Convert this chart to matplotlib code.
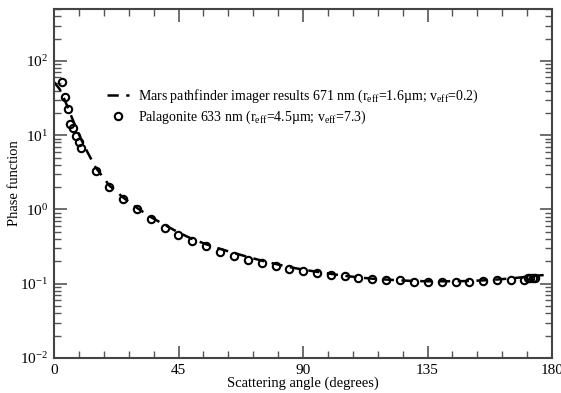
import matplotlib
matplotlib.use("Agg")
import matplotlib.pyplot as plt
from matplotlib.ticker import FixedLocator, LogLocator, NullFormatter, FuncFormatter
import numpy as np

plt.rcParams['font.family'] = ['Liberation Serif', 'DejaVu Serif']
plt.rcParams['mathtext.fontset'] = 'custom'
plt.rcParams['mathtext.rm'] = 'Liberation Serif'
plt.rcParams['mathtext.it'] = 'Liberation Serif'

# Mars Pathfinder imager phase function (671 nm)
mpf_angle = [0, 2, 4, 6, 8, 10, 12, 15, 20, 25, 30, 35, 40, 45, 50, 55, 60, 65, 70,
             75, 80, 85, 90, 95, 100, 105, 110, 115, 120, 125, 130, 135, 140, 145,
             150, 155, 160, 165, 170, 175, 178]
mpf_phase = [52, 42, 29, 19, 12.5, 8.5, 6.0, 3.7, 2.1, 1.45, 1.05, 0.79, 0.62, 0.49,
             0.40, 0.34, 0.295, 0.26, 0.23, 0.205, 0.185, 0.168, 0.155, 0.145, 0.136,
             0.128, 0.122, 0.117, 0.114, 0.111, 0.109, 0.108, 0.108, 0.108, 0.109,
             0.111, 0.114, 0.118, 0.123, 0.129, 0.132]

# Palagonite laboratory measurement (633 nm)
pal_angle = [2.9, 4.0, 5.0, 5.9, 6.9, 8.0, 8.9, 9.9, 15.1, 19.9, 24.9, 29.9, 34.9, 40.0,
             44.9, 50.0, 54.9, 60.0, 65.0, 70.1, 75.0, 80.1, 85.0, 90.1, 95.0, 100.0,
             105.0, 110.0, 115.0, 120.1, 125.0, 130.0, 135.0, 140.1, 145.2, 150.0,
             155.0, 160.0, 165.0, 170.0, 171.2, 172.0, 173.0, 174.0]
pal_phase = [51.7, 32.9, 22.2, 14.1, 12.4, 9.8, 8.05, 6.77, 3.28, 2.0, 1.38, 1.0, 0.74,
             0.57, 0.46, 0.38, 0.32, 0.27, 0.238, 0.212, 0.192, 0.172, 0.159, 0.149,
             0.139, 0.133, 0.126, 0.119, 0.115, 0.112, 0.111, 0.105, 0.105, 0.105,
             0.105, 0.105, 0.108, 0.111, 0.114, 0.114, 0.118, 0.119, 0.121, 0.121]

x_major = [0, 45, 90, 135, 180]
x_minor = [9, 18, 27, 36, 54, 63, 72, 81, 99, 108, 117, 126, 144, 153, 162, 171]

fig = plt.figure(figsize=(5.61, 3.93), dpi=100)
ax = fig.add_axes([0.0963, 0.089, 0.8877, 0.888])

ax.plot(mpf_angle, mpf_phase, color='black', lw=1.8, dashes=(4.5, 3),
        label=r'Mars pathfinder imager results 671 nm (r$_{\mathrm{eff}}$=1.6µm; v$_{\mathrm{eff}}$=0.2)')
ax.plot(pal_angle, pal_phase, ls='none', marker='o', ms=5.3, mfc='none',
        mec='black', mew=1.5,
        label=r'Palagonite 633 nm (r$_{\mathrm{eff}}$=4.5µm; v$_{\mathrm{eff}}$=7.3)')

ax.set_yscale('log')
ax.set_xlim(0, 180)
ax.set_ylim(1e-2, 500)

ax.xaxis.set_major_locator(FixedLocator(x_major))
ax.xaxis.set_minor_locator(FixedLocator(x_minor))
ax.yaxis.set_major_locator(LogLocator(base=10, numticks=10))
ax.yaxis.set_minor_locator(LogLocator(base=10, subs=range(2, 10), numticks=20))
ax.yaxis.set_minor_formatter(NullFormatter())
ax.yaxis.set_major_formatter(FuncFormatter(
    lambda v, pos: r'10$^{%s}$' % (('-' if v < 1 else '') + str(abs(int(round(np.log10(v))))))))

ax.tick_params(which='both', direction='in', top=True, right=True,
               labelsize=11, color='#555555')
ax.tick_params(which='major', length=9, width=1.2, pad=4)
ax.tick_params(which='minor', length=5, width=1.0)
for sp in ax.spines.values():
    sp.set_linewidth(1.5)
    sp.set_color('#444444')

ax.set_xlabel('Scattering angle (degrees)', fontsize=10.5, labelpad=0)
ax.set_ylabel('Phase function', fontsize=10.5)
ax.yaxis.set_label_coords(-0.066, 0.5)

ax.legend(loc='upper left', bbox_to_anchor=(0.107, 0.775), frameon=False,
          fontsize=10, handlelength=1.55, handletextpad=0.65, labelspacing=0.25,
          borderaxespad=0, borderpad=0)

fig.savefig('out.png', dpi=100)
